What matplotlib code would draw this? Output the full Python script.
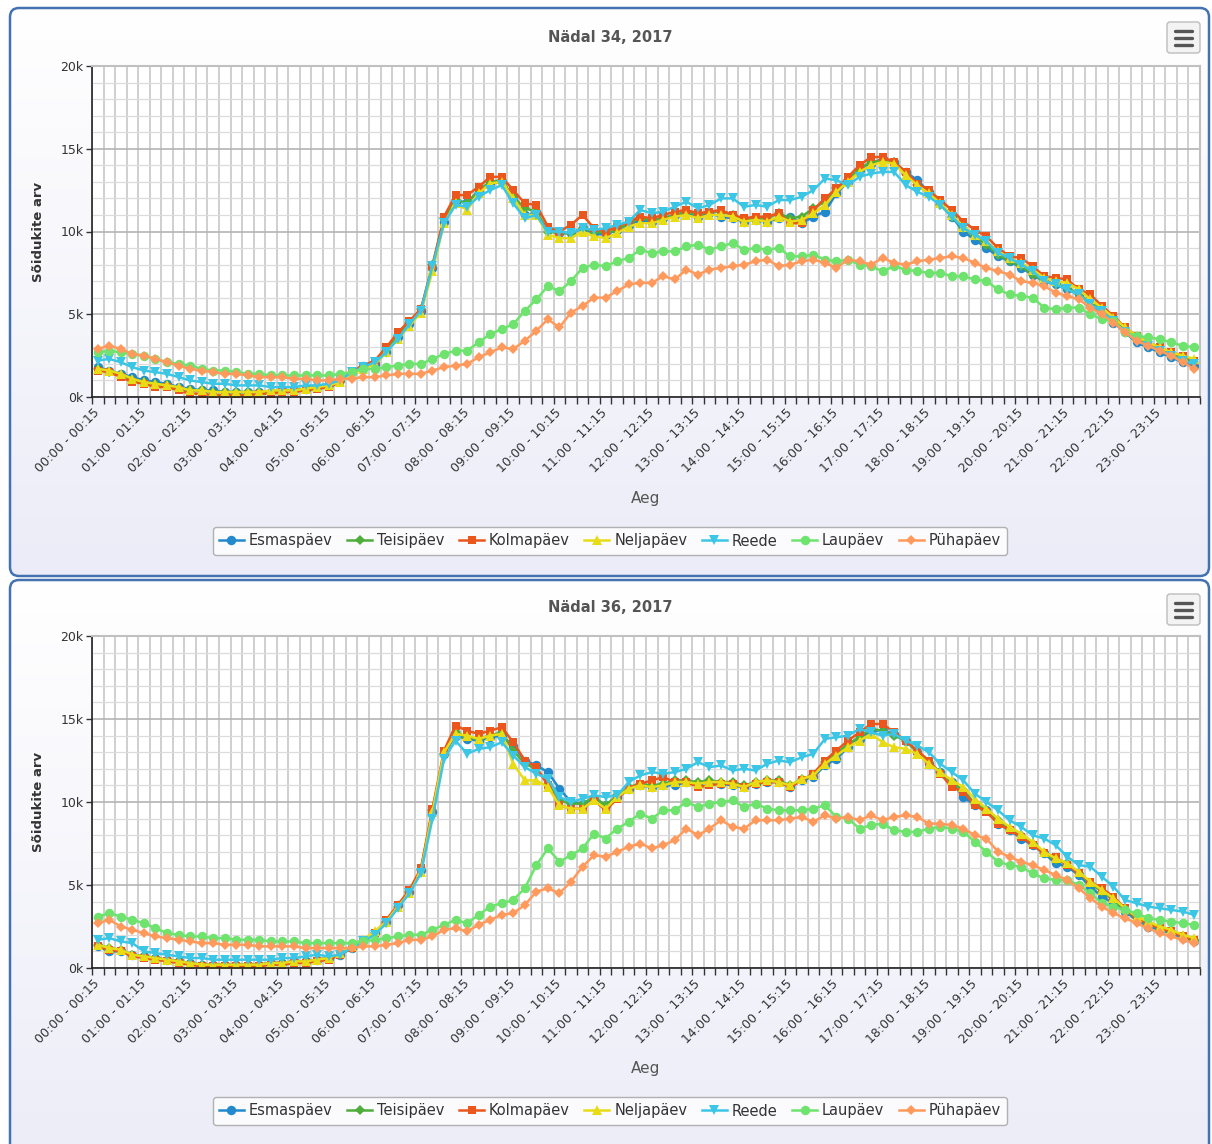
import numpy as np
import matplotlib
matplotlib.use("Agg")
import matplotlib.pyplot as plt
from matplotlib.patches import FancyBboxPatch
from matplotlib.lines import Line2D

plt.rcParams['font.family'] = ['DejaVu Sans']

# ---------------- data (values in thousands of vehicles) ----------------
series_names = ["Esmaspäev", "Teisipäev", "Kolmapäev", "Neljapäev", "Reede", "Laupäev", "Pühapäev"]
series_colors = ["#2389cd", "#4fae3b", "#ea561c", "#e8dc16", "#3cc6e6", "#6ee46e", "#ff9a5c"]
series_markers = ["o", "D", "s", "^", "v", "o", "D"]

tick_labels = ["00:00 - 00:15", "01:00 - 01:15", "02:00 - 02:15", "03:00 - 03:15",
               "04:00 - 04:15", "05:00 - 05:15", "06:00 - 06:15", "07:00 - 07:15",
               "08:00 - 08:15", "09:00 - 09:15", "10:00 - 10:15", "11:00 - 11:15",
               "12:00 - 12:15", "13:00 - 13:15", "14:00 - 14:15", "15:00 - 15:15",
               "16:00 - 16:15", "17:00 - 17:15", "18:00 - 18:15", "19:00 - 19:15",
               "20:00 - 20:15", "21:00 - 21:15", "22:00 - 22:15", "23:00 - 23:15"]
n_categories = 96
y_ticks = [0, 5, 10, 15, 20]
y_ticklabels = ["0k", "5k", "10k", "15k", "20k"]

w34_title = "Nädal 34, 2017"
w34_esmaspaev = [1.8,1.6,1.4,1.2,1.0,0.9,0.8,0.6,0.5,0.4,0.4,0.3,0.3,0.3,0.3,0.3,0.4,0.4,0.5,0.6,0.8,1.0,1.5,1.9,
    2.0,2.7,3.6,4.4,5.2,7.8,10.6,11.8,11.8,12.4,12.9,13.0,12.0,11.0,11.1,10.1,9.9,9.9,10.2,9.9,9.8,10.1,10.4,10.7,10.6,10.8,11.0,11.1,10.9,11.1,
    10.9,10.8,10.6,10.7,10.6,10.8,10.9,10.5,10.9,11.2,12.3,13.0,13.7,14.1,14.4,14.2,13.6,13.1,12.4,11.7,10.9,10.0,9.5,9.0,8.5,8.2,7.8,7.4,7.0,6.8,6.5,6.2,5.6,5.1,4.5,3.9,3.3,3.0,2.7,2.4,2.1,1.9]
w34_teisipaev = [1.7,1.5,1.3,1.0,0.9,0.8,0.7,0.5,0.4,0.4,0.3,0.3,0.3,0.3,0.3,0.3,0.4,0.4,0.5,0.6,0.7,0.9,1.4,1.8,
    2.1,2.8,3.7,4.5,5.3,8.0,10.8,11.9,11.7,12.5,13.0,13.1,12.1,11.4,11.2,10.0,9.9,9.9,10.2,10.0,9.9,10.1,10.5,10.8,10.7,10.8,11.0,11.2,11.0,11.2,
    11.2,11.0,10.7,10.8,10.8,11.1,10.8,10.9,11.4,11.8,12.6,13.1,13.8,14.2,14.3,14.2,13.5,12.8,12.3,11.6,10.9,10.2,9.7,9.2,8.6,8.2,7.9,7.4,7.0,6.8,6.6,6.2,5.7,5.3,4.8,4.1,3.6,3.2,2.9,2.6,2.4,2.1]
w34_kolmapaev = [1.6,1.5,1.2,0.9,0.8,0.6,0.6,0.4,0.2,0.2,0.1,0.1,0.1,0.1,0.2,0.2,0.3,0.3,0.4,0.5,0.6,0.9,1.5,1.9,
    2.2,3.0,3.9,4.6,5.3,7.9,10.9,12.2,12.2,12.7,13.3,13.3,12.5,11.7,11.6,10.3,10.0,10.4,11.0,10.2,10.0,10.3,10.6,10.9,10.8,11.0,11.2,11.3,11.1,11.2,
    11.3,11.0,10.8,10.9,10.9,11.1,10.5,10.5,11.3,12.0,12.6,13.3,14.0,14.5,14.5,14.2,13.6,12.9,12.5,11.9,11.3,10.6,10.1,9.7,9.0,8.5,8.4,7.9,7.3,7.2,7.1,6.5,6.2,5.5,4.9,4.2,3.7,3.3,3.0,2.7,2.5,2.2]
w34_neljapaev = [1.7,1.6,1.4,1.1,0.9,0.8,0.7,0.6,0.4,0.4,0.3,0.3,0.3,0.3,0.3,0.4,0.4,0.4,0.5,0.6,0.7,0.9,1.4,1.7,
    2.0,2.7,3.5,4.3,5.1,7.6,10.5,11.7,11.3,12.3,12.9,13.0,12.0,11.0,11.0,9.8,9.6,9.6,10.0,9.7,9.6,9.9,10.3,10.5,10.5,10.7,10.9,11.0,10.8,11.0,
    11.0,10.9,10.6,10.7,10.6,10.9,10.6,10.7,11.1,11.6,12.4,13.0,13.6,14.0,14.2,14.1,13.4,12.8,12.3,11.7,11.0,10.3,9.8,9.4,8.8,8.4,8.1,7.7,7.2,7.0,6.9,6.5,5.9,5.4,4.8,4.2,3.7,3.3,3.0,2.7,2.5,2.3]
w34_reede = [2.2,2.3,2.1,1.8,1.6,1.5,1.4,1.2,1.0,0.9,0.8,0.8,0.7,0.7,0.7,0.6,0.6,0.6,0.7,0.7,0.8,1.0,1.5,1.8,
    2.1,2.7,3.5,4.4,5.2,7.9,10.5,11.6,11.5,12.1,12.5,12.8,11.7,10.8,11.0,10.0,10.0,9.9,10.2,10.1,10.2,10.4,10.6,11.3,11.1,11.2,11.5,11.8,11.4,11.6,
    12.0,12.0,11.5,11.6,11.5,11.9,11.9,12.1,12.5,13.2,13.1,12.8,13.3,13.5,13.6,13.6,12.8,12.4,12.1,11.6,10.9,10.2,9.8,9.4,8.7,8.4,8.0,7.6,7.0,6.8,6.5,6.2,5.6,5.2,4.6,3.9,3.4,3.1,2.8,2.5,2.2,2.0]
w34_laupaev = [2.7,2.8,2.7,2.6,2.5,2.3,2.1,2.0,1.9,1.7,1.6,1.6,1.5,1.4,1.4,1.3,1.3,1.3,1.3,1.3,1.3,1.4,1.5,1.7,
    1.7,1.8,1.9,2.0,2.0,2.3,2.6,2.8,2.8,3.3,3.8,4.1,4.4,5.2,5.9,6.7,6.4,7.0,7.8,8.0,7.9,8.2,8.4,8.9,8.7,8.8,8.8,9.1,9.2,8.9,
    9.1,9.3,8.9,9.0,8.9,9.0,8.5,8.5,8.6,8.3,8.2,8.3,8.0,7.9,7.6,7.9,7.7,7.6,7.5,7.5,7.3,7.3,7.1,7.0,6.5,6.2,6.1,6.0,5.4,5.3,5.4,5.4,5.0,4.7,4.6,3.9,3.7,3.6,3.5,3.3,3.1,3.0]
w34_puhapaev = [2.9,3.1,2.9,2.6,2.5,2.3,2.1,1.9,1.7,1.6,1.5,1.4,1.4,1.3,1.2,1.2,1.2,1.1,1.1,1.0,1.0,1.1,1.1,1.2,
    1.2,1.3,1.4,1.4,1.4,1.6,1.8,1.9,2.0,2.4,2.7,3.0,2.9,3.4,4.0,4.7,4.2,5.1,5.5,6.0,6.0,6.4,6.8,6.9,6.9,7.3,7.1,7.7,7.4,7.7,
    7.8,7.9,8.0,8.2,8.3,7.9,8.0,8.2,8.3,8.1,7.8,8.3,8.2,8.0,8.4,8.1,8.0,8.2,8.3,8.4,8.5,8.4,8.1,7.8,7.6,7.4,7.0,6.9,6.7,6.3,6.1,5.9,5.4,5.0,4.5,3.9,3.4,3.1,2.8,2.5,2.1,1.7]

w36_title = "Nädal 36, 2017"
w36_esmaspaev = [1.3,1.0,1.0,0.8,0.7,0.6,0.5,0.4,0.3,0.2,0.2,0.2,0.2,0.2,0.2,0.3,0.3,0.4,0.4,0.5,0.6,0.8,1.2,1.6,
    2.1,2.8,3.8,4.6,5.9,9.4,12.9,14.0,13.8,13.7,13.9,14.0,13.4,12.5,12.2,11.8,10.8,10.0,9.9,10.2,9.8,10.3,10.8,11.0,10.9,11.0,11.0,11.2,11.1,11.2,
    11.1,11.0,10.9,11.1,11.2,11.2,10.9,11.3,11.5,12.2,12.6,13.3,13.8,14.3,14.3,14.1,13.7,13.0,12.3,11.8,11.2,10.3,9.8,9.5,8.7,8.3,7.8,7.4,6.9,6.3,6.1,5.6,4.9,4.3,3.9,3.4,2.9,2.5,2.3,2.1,1.8,1.6]
w36_teisipaev = [1.4,1.2,1.1,0.8,0.7,0.6,0.5,0.4,0.3,0.2,0.2,0.2,0.2,0.2,0.2,0.3,0.3,0.4,0.4,0.5,0.6,0.8,1.2,1.6,
    2.1,2.8,3.7,4.6,5.9,9.5,12.9,14.2,13.9,13.8,14.0,14.2,13.1,12.3,12.0,11.1,10.1,9.9,9.9,10.3,9.8,10.4,10.9,11.1,11.0,11.1,11.3,11.3,11.2,11.3,
    11.2,11.2,11.0,11.2,11.3,11.3,11.0,11.4,11.6,12.4,12.9,13.5,13.9,14.4,14.3,14.0,13.7,13.0,12.4,11.8,11.2,10.7,9.9,9.5,8.9,8.3,8.0,7.5,6.9,6.5,6.3,5.7,5.1,4.6,4.1,3.5,3.0,2.7,2.4,2.2,1.9,1.7]
w36_kolmapaev = [1.3,1.1,1.0,0.7,0.6,0.5,0.4,0.3,0.2,0.1,0.1,0.1,0.1,0.1,0.1,0.2,0.2,0.3,0.3,0.4,0.5,0.8,1.2,1.6,
    2.1,2.9,3.8,4.7,6.0,9.6,13.1,14.6,14.3,14.1,14.3,14.5,13.6,12.5,12.1,11.0,9.8,9.6,9.6,10.1,9.5,10.2,10.8,11.1,11.3,11.5,11.2,11.2,10.9,11.0,
    11.1,11.1,10.9,11.1,11.2,11.2,10.9,11.3,11.7,12.5,13.1,13.7,14.2,14.7,14.7,14.2,13.7,13.1,12.5,11.7,10.9,10.6,9.8,9.4,8.7,8.3,7.9,7.4,6.9,6.7,6.2,5.7,5.2,4.8,4.3,3.6,3.0,2.7,2.4,2.2,1.9,1.7]
w36_neljapaev = [1.4,1.2,1.1,0.8,0.7,0.6,0.5,0.4,0.3,0.2,0.2,0.2,0.2,0.2,0.2,0.3,0.3,0.4,0.4,0.5,0.6,0.9,1.3,1.7,
    2.2,2.8,3.7,4.5,5.8,9.4,13.0,14.1,14.0,13.8,14.0,14.1,12.3,11.3,11.3,10.9,9.8,9.6,9.6,10.1,9.6,10.3,10.8,11.0,10.9,11.0,11.2,11.2,11.1,11.2,
    11.2,11.1,10.9,11.2,11.3,11.2,11.0,11.4,11.6,12.3,12.8,13.3,13.7,14.1,13.6,13.3,13.2,12.9,12.3,11.8,11.3,10.9,10.2,9.6,9.0,8.5,8.1,7.6,7.0,6.6,6.3,5.8,5.2,4.7,4.2,3.6,3.1,2.8,2.5,2.3,2.0,1.8]
w36_reede = [1.7,1.8,1.6,1.5,1.0,0.9,0.8,0.7,0.6,0.6,0.5,0.5,0.5,0.5,0.5,0.5,0.6,0.6,0.7,0.8,0.7,0.8,1.2,1.6,
    2.0,2.7,3.6,4.5,5.7,9.0,12.6,13.7,12.9,13.2,13.3,13.6,12.8,12.1,11.7,11.4,10.3,10.0,10.2,10.4,10.3,10.4,11.2,11.6,11.8,11.7,11.8,12.0,12.4,12.1,
    12.2,11.9,12.0,11.9,12.3,12.5,12.4,12.7,12.9,13.8,13.9,14.0,14.4,14.2,14.0,14.1,13.7,13.4,13.0,12.3,11.8,11.3,10.5,10.0,9.5,8.9,8.5,8.0,7.8,7.4,6.7,6.2,6.1,5.5,4.9,4.1,3.9,3.7,3.6,3.5,3.4,3.2]
w36_laupaev = [3.1,3.3,3.1,2.9,2.7,2.4,2.1,2.0,1.9,1.9,1.8,1.8,1.7,1.7,1.7,1.6,1.6,1.6,1.5,1.5,1.5,1.5,1.5,1.6,
    1.7,1.8,1.9,2.0,2.0,2.3,2.6,2.9,2.7,3.2,3.7,3.9,4.1,4.8,6.2,7.2,6.4,6.8,7.2,8.1,7.8,8.4,8.8,9.3,9.0,9.5,9.5,10.0,9.7,9.9,
    10.0,10.1,9.7,9.9,9.6,9.5,9.5,9.5,9.6,9.8,9.1,9.0,8.4,8.6,8.7,8.3,8.2,8.2,8.4,8.5,8.4,8.2,7.6,7.0,6.4,6.2,6.1,5.7,5.4,5.3,5.3,5.0,4.5,3.9,3.7,3.5,3.3,3.0,2.9,2.8,2.7,2.6]
w36_puhapaev = [2.7,2.9,2.5,2.3,2.1,1.9,1.8,1.7,1.6,1.5,1.5,1.4,1.4,1.4,1.3,1.3,1.3,1.3,1.2,1.2,1.2,1.2,1.2,1.3,
    1.3,1.4,1.5,1.7,1.7,1.9,2.3,2.4,2.2,2.6,2.9,3.2,3.3,3.8,4.6,4.8,4.5,5.2,6.1,6.8,6.7,7.0,7.3,7.5,7.2,7.4,7.7,8.4,8.0,8.4,
    8.9,8.5,8.4,8.9,8.9,8.9,9.0,9.1,8.8,9.2,9.0,9.1,8.9,9.2,8.9,9.1,9.2,9.1,8.7,8.7,8.6,8.4,8.0,7.8,7.0,6.7,6.4,6.2,5.9,5.6,5.3,4.8,4.2,3.7,3.3,3.0,2.7,2.4,2.1,1.9,1.7,1.5]

w34_series = [w34_esmaspaev, w34_teisipaev, w34_kolmapaev, w34_neljapaev, w34_reede, w34_laupaev, w34_puhapaev]
w36_series = [w36_esmaspaev, w36_teisipaev, w36_kolmapaev, w36_neljapaev, w36_reede, w36_laupaev, w36_puhapaev]

# ---------------- figure ----------------
W, H = 1212, 1144
fig = plt.figure(figsize=(W / 100, H / 100), dpi=100)
fig.patch.set_facecolor("white")

bg = fig.add_axes([0, 0, 1, 1])
bg.set_xlim(0, W)
bg.set_ylim(H, 0)
bg.axis("off")

top_col = np.array([1.0, 1.0, 1.0])
bot_col = np.array([236, 236, 248]) / 255.0
grad = np.linspace(0, 1, 256)[:, None, None]
grad_img = (top_col[None, None, :] * (1 - grad) + bot_col[None, None, :] * grad)
grad_img = np.repeat(grad_img, 2, axis=1)


def draw_panel(y0, y1):
    box = FancyBboxPatch((10, y0), 1199, y1 - y0,
                         boxstyle="round,pad=0,rounding_size=9",
                         facecolor="none", edgecolor="#4472b0", lw=1.8, zorder=3)
    bg.add_patch(box)
    im = bg.imshow(grad_img, extent=(10, 1209, y1, y0), aspect="auto",
                   origin="upper", zorder=1)
    im.set_clip_path(box)
    # menu button
    btn = FancyBboxPatch((1167, y0 + 14), 33, 31,
                         boxstyle="round,pad=0,rounding_size=3",
                         facecolor="#f3f3f3", edgecolor="#bdbdbd", lw=1.0, zorder=4)
    bg.add_patch(btn)
    for dy in (22.5, 29.5, 36.5):
        bg.plot([1175, 1192], [y0 + dy, y0 + dy], color="#555555", lw=2.4,
                solid_capstyle="round", zorder=5)


draw_panel(8, 576)
draw_panel(580, 1175)

x = np.arange(n_categories)


def draw_chart(top_px, bottom_px, title, data, title_y, xlabel_y, legend_y):
    ax = fig.add_axes([92 / W, 1 - bottom_px / H, 1108 / W, (bottom_px - top_px) / H])
    ax.set_facecolor("white")
    ax.set_xlim(-0.5, n_categories - 0.5)
    ax.set_ylim(0, 20)
    ax.set_zorder(2)

    ax.set_xticks(np.arange(-0.5, n_categories, 1))
    ax.set_xticklabels([])
    ax.set_xticks(np.arange(0, n_categories, 4), minor=True)
    ax.set_xticklabels(tick_labels, minor=True, rotation=45, ha="right", va="center",
                       rotation_mode="anchor", fontsize=9, color="#333333")
    ax.tick_params(axis="x", which="major", length=5, width=1, color="#333333", direction="out")
    ax.tick_params(axis="x", which="minor", length=0, pad=10)

    ax.set_yticks(y_ticks)
    ax.set_yticklabels(y_ticklabels, fontsize=9, color="#333333")
    ax.set_yticks(np.arange(0, 21, 1), minor=True)
    ax.tick_params(axis="y", which="major", length=4, width=1, color="#333333", pad=2)
    ax.tick_params(axis="y", which="minor", length=0)

    ax.grid(True, which="major", axis="x", color="#c2c2c2", lw=1.1)
    ax.grid(True, which="major", axis="y", color="#b4b4b4", lw=1.2)
    ax.grid(True, which="minor", axis="y", color="#dcdcdc", lw=0.9)
    ax.set_axisbelow(True)

    for side in ("top", "right"):
        ax.spines[side].set_color("#c0c0c0")
        ax.spines[side].set_linewidth(1.5)
    for side in ("left", "bottom"):
        ax.spines[side].set_color("#222222")
        ax.spines[side].set_linewidth(1.2)

    sizes = {"o": 6.8, "D": 5.2, "s": 6.2, "^": 7.0, "v": 7.0}
    for name, vals, col, mk in zip(series_names, data, series_colors, series_markers):
        ax.plot(x, vals, color=col, lw=1.8, marker=mk, ms=sizes[mk],
                markeredgewidth=0, label=name)

    fig.text(610 / W, 1 - title_y / H, title, ha="center", va="center",
             fontsize=10.5, color="#555555", weight="bold")
    fig.text(38 / W, 1 - (top_px + bottom_px) / 2 / H, "Sõidukite arv", rotation=90,
             ha="center", va="center", fontsize=9.5, color="#333333", weight="bold")
    fig.text(646 / W, 1 - xlabel_y / H, "Aeg", ha="center", va="center",
             fontsize=11, color="#555555")

    handles = [Line2D([0], [0], color=c, lw=1.8, marker=m, ms=sizes[m], markeredgewidth=0)
               for c, m in zip(series_colors, series_markers)]
    leg = fig.legend(handles, series_names, loc="center",
                     bbox_to_anchor=(610 / W, 1 - legend_y / H), ncol=7,
                     frameon=True, fancybox=True, fontsize=10.5, handlelength=1.7,
                     columnspacing=1.0, handletextpad=0.35, borderpad=0.42,
                     labelcolor="#333333")
    leg.get_frame().set_edgecolor("#a0a0a0")
    leg.get_frame().set_facecolor("white")
    leg.get_frame().set_linewidth(1.0)
    leg.set_zorder(5)
    return ax


draw_chart(66, 397, w34_title, w34_series, 37, 498, 541)
draw_chart(636, 968, w36_title, w36_series, 607, 1069, 1111)

fig.savefig("out.png", dpi=100, facecolor="white")
